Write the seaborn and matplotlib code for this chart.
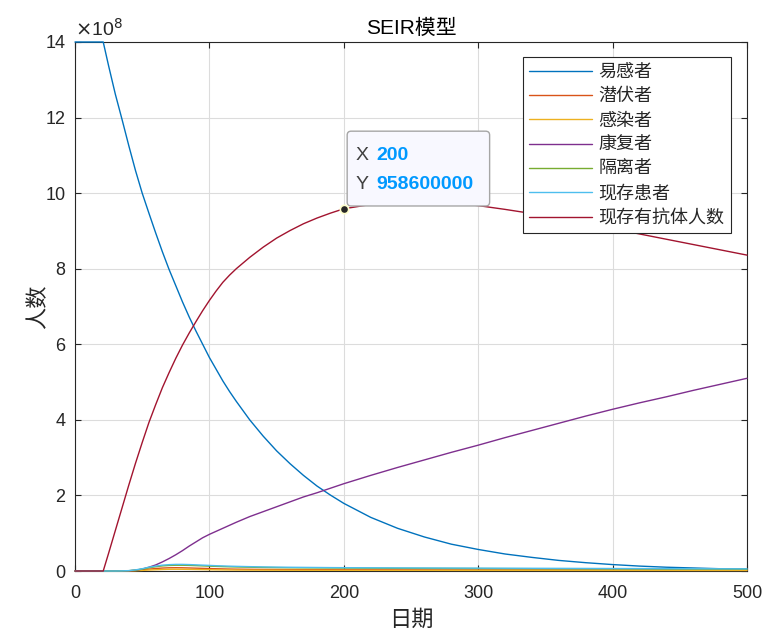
import numpy as np
import pandas as pd
import seaborn as sns
import matplotlib.pyplot as plt
from matplotlib.patches import FancyBboxPatch

# Data (people, in units of 1e8)
days = [0, 10, 21,
        25, 30, 35, 40, 45, 50, 55, 60, 65, 70, 75, 80, 85, 90, 95, 100, 105, 110, 115, 120,
        130, 140, 150, 160, 170, 180, 190, 200,
        220, 240, 260, 280, 300, 320, 340, 360, 380, 400, 420, 440, 460, 480, 500]

susceptible = [14, 14, 14,
               13.37, 12.62, 11.95, 11.26, 10.6, 10.0, 9.47, 8.95, 8.45, 7.98, 7.55, 7.12,
               6.72, 6.35, 6.0, 5.65, 5.34, 5.03, 4.75, 4.49,
               4.0, 3.57, 3.18, 2.84, 2.53, 2.25, 2.01, 1.79,
               1.42, 1.13, 0.9, 0.71, 0.57, 0.45, 0.36, 0.28, 0.22, 0.17, 0.13, 0.1,
               0.08, 0.06, 0.05]
exposed = [0, 0, 0,
           0, 0, 0.002, 0.006, 0.015, 0.03, 0.05, 0.065, 0.078, 0.085, 0.087, 0.085,
           0.08, 0.075, 0.07, 0.065, 0.06, 0.056, 0.052, 0.049,
           0.045, 0.042, 0.04, 0.038, 0.036, 0.035, 0.034, 0.033,
           0.032, 0.031, 0.03, 0.029, 0.029, 0.028, 0.028, 0.027, 0.027, 0.026, 0.026,
           0.025, 0.025, 0.025, 0.024]
infected = [0, 0, 0,
            0, 0, 0, 0.003, 0.008, 0.016, 0.025, 0.033, 0.04, 0.045, 0.046, 0.045,
            0.043, 0.04, 0.037, 0.034, 0.031, 0.029, 0.027, 0.025,
            0.023, 0.022, 0.021, 0.02, 0.019, 0.019, 0.018, 0.018,
            0.017, 0.017, 0.017, 0.016, 0.016, 0.016, 0.016, 0.015, 0.015, 0.015, 0.015,
            0.015, 0.014, 0.014, 0.014]
recovered = [0, 0, 0,
             0, 0, 0, 0.005, 0.02, 0.05, 0.1, 0.16, 0.24, 0.33, 0.43, 0.54,
             0.66, 0.77, 0.88, 0.97, 1.05, 1.13, 1.21, 1.29,
             1.44, 1.57, 1.7, 1.83, 1.96, 2.07, 2.19, 2.31,
             2.53, 2.74, 2.94, 3.14, 3.33, 3.53, 3.72, 3.91, 4.1, 4.28, 4.45, 4.61,
             4.78, 4.94, 5.1]
quarantined = [0, 0, 0,
               0, 0, 0.002, 0.008, 0.025, 0.05, 0.085, 0.113, 0.135, 0.147, 0.152, 0.152,
               0.148, 0.142, 0.135, 0.128, 0.122, 0.116, 0.111, 0.107,
               0.1, 0.094, 0.09, 0.086, 0.083, 0.081, 0.079, 0.077,
               0.074, 0.071, 0.069, 0.067, 0.065, 0.063, 0.061, 0.059, 0.057, 0.056,
               0.054, 0.052, 0.051, 0.05, 0.048]
current_patients = [0, 0, 0,
                    0, 0, 0.003, 0.01, 0.03, 0.06, 0.1, 0.13, 0.155, 0.168, 0.175, 0.175,
                    0.17, 0.163, 0.155, 0.148, 0.14, 0.134, 0.128, 0.123,
                    0.115, 0.108, 0.103, 0.099, 0.096, 0.093, 0.09, 0.088,
                    0.085, 0.082, 0.08, 0.078, 0.076, 0.074, 0.072, 0.07, 0.068, 0.066,
                    0.064, 0.062, 0.06, 0.058, 0.056]
antibody = [0, 0, 0,
            0.47, 1.07, 1.67, 2.27, 2.85, 3.4, 3.93, 4.4, 4.85, 5.25, 5.63, 5.98,
            6.3, 6.6, 6.89, 7.16, 7.41, 7.64, 7.83, 8.0,
            8.3, 8.57, 8.81, 9.01, 9.19, 9.34, 9.47, 9.586,
            9.7, 9.77, 9.78, 9.74, 9.67, 9.57, 9.46, 9.33, 9.2, 9.06, 8.92, 8.78,
            8.64, 8.5, 8.36]

labels = ['易感者', '潜伏者', '感染者', '康复者', '隔离者', '现存患者', '现存有抗体人数']
series = [susceptible, exposed, infected, recovered, quarantined, current_patients, antibody]
colors = ['#0072BD', '#D95319', '#EDB120', '#7E2F8E', '#77AC30', '#4DBEEE', '#A2142F']

tip_x = 200
tip_y = 9.586

sns.set_style('ticks')
plt.rcParams['font.family'] = ['Liberation Sans', 'Noto Sans CJK SC']
plt.rcParams['axes.unicode_minus'] = False

fig = plt.figure(figsize=(7.66, 6.33), dpi=100)
ax = fig.add_axes([75 / 766, 1 - 571 / 633, 672 / 766, 529 / 633])

for vals, name, c in zip(series, labels, colors):
    df = pd.DataFrame({'day': days, 'n': vals})
    sns.lineplot(data=df, x='day', y='n', color=c, lw=1.0, label=name, ax=ax)
for ln in ax.lines:
    ln.set_clip_on(False)
    ln.set_zorder(3)

ax.set_xlim(0, 500)
ax.set_ylim(0, 14)
ax.set_xticks(range(0, 501, 100))
ax.set_yticks(range(0, 15, 2))
ax.grid(True, color='#dcdcdc', lw=0.8)
ax.set_axisbelow(True)
for s in ax.spines.values():
    s.set_color('#262626')
    s.set_linewidth(0.8)
ax.tick_params(direction='in', top=True, right=True, length=4, width=0.8,
               color='#262626', labelcolor='#262626', labelsize=13)
ax.tick_params(axis='x', pad=10)
ax.tick_params(axis='y', pad=7)

ax.set_title('SEIR模型', fontsize=15, color='black', pad=6)
ax.set_xlabel('日期', fontsize=16, color='#262626', labelpad=6)
ax.set_ylabel('人数', fontsize=16, color='#262626', labelpad=-3)
ax.text(0.0, 1.004, r'$\times$10$^{8}$', transform=ax.transAxes, fontsize=14,
        color='#262626', ha='left', va='bottom')

leg = ax.legend(loc='upper right', bbox_to_anchor=(0.976, 0.972), borderaxespad=0,
                fancybox=False, framealpha=1, edgecolor='#262626',
                handlelength=3.5, handletextpad=0.35, labelspacing=0.35,
                borderpad=0.35, prop={'family': 'Noto Sans CJK SC', 'size': 13})
leg.get_frame().set_linewidth(0.8)
leg.set_zorder(6)
for t in leg.get_texts():
    t.set_color('#262626')

# data tip
box = FancyBboxPatch((202.5, 9.66), 106, 1.98,
                     boxstyle='round,pad=0,rounding_size=3', mutation_aspect=0.035,
                     facecolor='#f8f8ff', edgecolor='#a6a6a6', lw=1.0, zorder=5)
ax.add_patch(box)
ax.text(209, 11.0, 'X', fontsize=14, color='#404040', va='center', zorder=6)
ax.text(224, 11.0, '200', fontsize=14, color='#0099ff', fontweight='bold',
        va='center', zorder=6)
ax.text(209, 10.22, 'Y', fontsize=14, color='#404040', va='center', zorder=6)
ax.text(224, 10.22, '958600000', fontsize=14, color='#0099ff', fontweight='bold',
        va='center', zorder=6)
ax.plot([tip_x], [tip_y], 'o', ms=6, mfc='#262626', mec='#ffffcc', mew=1.2, zorder=7)

fig.savefig('out.png', dpi=100)
